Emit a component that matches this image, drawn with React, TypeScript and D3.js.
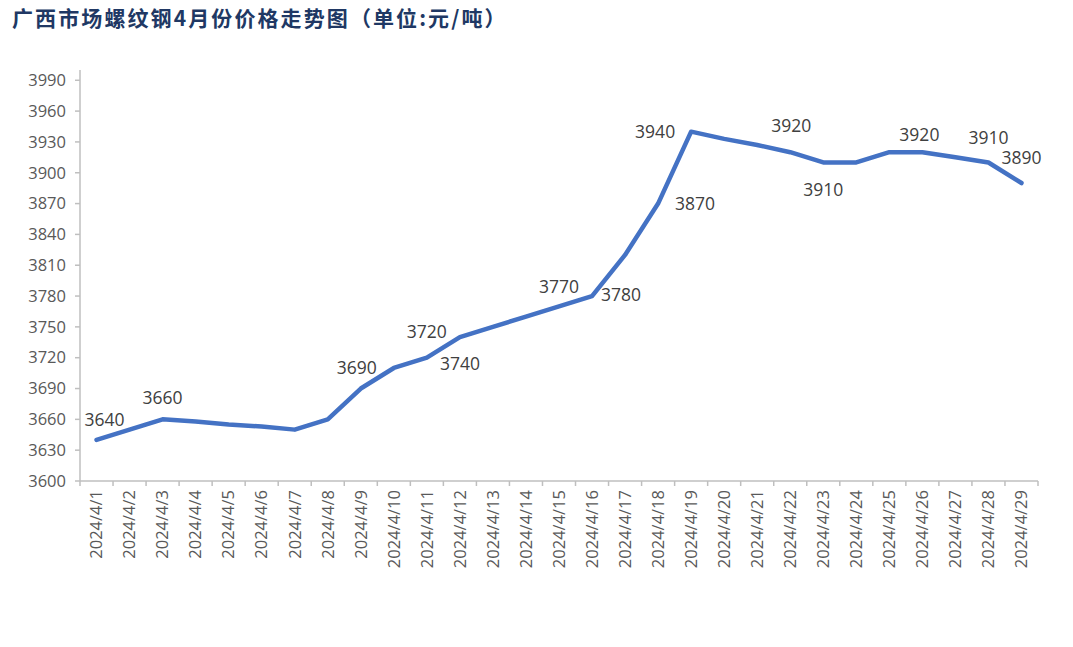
import React from "react";
import * as d3 from "d3";

const dates = [
  "2024/4/1", "2024/4/2", "2024/4/3", "2024/4/4", "2024/4/5", "2024/4/6", "2024/4/7",
  "2024/4/8", "2024/4/9", "2024/4/10", "2024/4/11", "2024/4/12", "2024/4/13", "2024/4/14",
  "2024/4/15", "2024/4/16", "2024/4/17", "2024/4/18", "2024/4/19", "2024/4/20", "2024/4/21",
  "2024/4/22", "2024/4/23", "2024/4/24", "2024/4/25", "2024/4/26", "2024/4/27", "2024/4/28",
  "2024/4/29",
];
const prices = [
  3640, 3650, 3660, 3658, 3655, 3653, 3650,
  3660, 3690, 3710, 3720, 3740, 3750, 3760,
  3770, 3780, 3820, 3870, 3940, 3933, 3927,
  3920, 3910, 3910, 3920, 3920, 3915, 3910,
  3890,
];
const yTicks = [3600, 3630, 3660, 3690, 3720, 3750, 3780, 3810, 3840, 3870, 3900, 3930, 3960, 3990];
const title = "广西市场螺纹钢4月份价格走势图（单位:元/吨）";

// which points carry a data label, and where the label sits relative to the point
const labelPlacements = [
  { date: "2024/4/1", dx: 8, dy: -20 },
  { date: "2024/4/3", dx: 0, dy: -21 },
  { date: "2024/4/9", dx: -4, dy: -21 },
  { date: "2024/4/11", dx: 0, dy: -26 },
  { date: "2024/4/12", dx: 0, dy: 27 },
  { date: "2024/4/15", dx: 0, dy: -19 },
  { date: "2024/4/16", dx: 29, dy: -1 },
  { date: "2024/4/18", dx: 37, dy: 0 },
  { date: "2024/4/19", dx: -36, dy: 0 },
  { date: "2024/4/22", dx: 1, dy: -26 },
  { date: "2024/4/23", dx: 0, dy: 27 },
  { date: "2024/4/26", dx: -3, dy: -17 },
  { date: "2024/4/28", dx: 0, dy: -25 },
  { date: "2024/4/29", dx: 0, dy: -25 },
];

const W = 1073;
const H = 647;
const left = 80;
const right = 1038;
const top = 70;
const bottom = 481;

export default function App() {
  const x = d3.scalePoint<string>().domain(dates).range([left, right]).padding(0.5);
  const step = x.step();
  const y = d3.scaleLinear().domain([3600, 4000]).range([bottom, top]);

  const line = d3
    .line<number>()
    .x((_, i) => x(dates[i]) as number)
    .y((d) => y(d));

  const boundaries = d3.range(dates.length + 1).map((i) => left + i * step);
  const axisColor = "#bfbfbf";
  const textColor = "#595959";
  const font = "'Open Sans', 'Liberation Sans', sans-serif";

  return (
    <svg
      width={W}
      height={H}
      style={{ position: "absolute", left: 0, top: 0, background: "#fff" }}
    >
      <rect x={0} y={0} width={W} height={H} fill="#fff" />
      <text
        x={12}
        y={26}
        fontFamily="'Noto Sans CJK SC', sans-serif"
        fontWeight={700}
        fontSize={21}
        letterSpacing={2.1}
        fill="#203864"
      >
        {title}
      </text>

      {/* y axis */}
      <line x1={left} x2={left} y1={top} y2={bottom} stroke={axisColor} strokeWidth={1.5} />
      {yTicks.map((t) => (
        <g key={t}>
          <line x1={left - 5} x2={left} y1={y(t)} y2={y(t)} stroke={axisColor} strokeWidth={1.5} />
          <text
            x={66}
            y={y(t)}
            dy="0.35em"
            textAnchor="end"
            fontFamily={font}
            fontSize={16.5}
            fill={textColor}
          >
            {t}
          </text>
        </g>
      ))}

      {/* x axis */}
      <line x1={left} x2={right} y1={bottom} y2={bottom} stroke={axisColor} strokeWidth={1.5} />
      {boundaries.map((bx, i) => (
        <line key={i} x1={bx} x2={bx} y1={bottom} y2={bottom + 5} stroke={axisColor} strokeWidth={1.5} />
      ))}
      {dates.map((d) => (
        <text
          key={d}
          transform={`translate(${x(d)},${bottom + 9}) rotate(-90)`}
          dy="0.35em"
          textAnchor="end"
          fontFamily={font}
          fontSize={16.5}
          fill={textColor}
        >
          {d}
        </text>
      ))}

      {/* line */}
      <path
        d={line(prices) || ""}
        fill="none"
        stroke="#4472C4"
        strokeWidth={4.5}
        strokeLinejoin="round"
        strokeLinecap="round"
      />

      {/* data labels */}
      {labelPlacements.map((p) => {
        const i = dates.indexOf(p.date);
        return (
          <text
            key={p.date}
            x={(x(p.date) as number) + p.dx}
            y={y(prices[i]) + p.dy}
            dy="0.35em"
            textAnchor="middle"
            fontFamily={font}
            fontSize={17.5}
            fill="#404040"
          >
            {prices[i]}
          </text>
        );
      })}
    </svg>
  );
}
